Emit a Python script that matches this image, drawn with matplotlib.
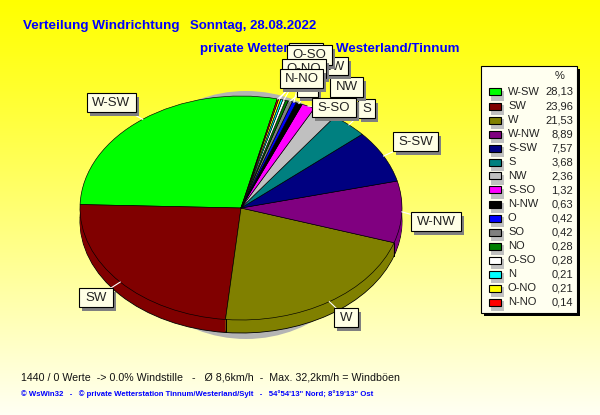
import numpy as np
import matplotlib
matplotlib.use("Agg")
import matplotlib.pyplot as plt
from matplotlib.patches import Rectangle, Ellipse

plt.rcParams['font.family'] = ['Liberation Sans', 'DejaVu Sans']

# legend / slice data (counter clockwise from the top)
names = ['W-SW', 'SW', 'W', 'W-NW', 'S-SW', 'S', 'NW', 'S-SO', 'N-NW', 'O', 'SO', 'NO', 'O-SO', 'N', 'O-NO', 'N-NO']
values = [28.13, 23.96, 21.53, 8.89, 7.57, 3.68, 2.36, 1.32, 0.63, 0.42, 0.42, 0.28, 0.28, 0.21, 0.21, 0.14]
value_labels = ['28,13', '23,96', '21,53', '8,89', '7,57', '3,68', '2,36', '1,32', '0,63', '0,42', '0,42', '0,28', '0,28', '0,21', '0,21', '0,14']
colors = ['#00ff00', '#800000', '#808000', '#800080', '#000080', '#008080', '#c0c0c0', '#ff00ff',
          '#000000', '#0000ff', '#808080', '#008000', '#ffffff', '#00ffff', '#ffff00', '#ff0000']

# layout of the label boxes in pixels, drawn in this order
label_boxes = [
    ('W-SW', 87, 93, 136, 112), ('SW', 79, 288, 113, 307), ('W', 334, 308, 358, 327),
    ('W-NW', 411, 212, 461, 231), ('S-SW', 393, 132, 438, 151), ('S', 358, 99, 375, 118),
    ('SO', 297, 78, 318, 97), ('NW', 330, 77, 363, 97), ('S-SO', 312, 98, 356, 117),
    ('N-NW', 305, 57, 348, 75), ('O', 289, 43, 323, 60), ('O-SO', 287, 45, 332, 65),
    ('O-NO', 282, 59, 326, 78), ('N-NO', 280, 69, 323, 88),
]

W, H = 600, 415
cx, cy, rx, ry, depth = 241, 208, 161, 112, 13
start = 77

fig = plt.figure(figsize=(W / 100, H / 100), dpi=100)

# background gradient
bg = fig.add_axes([0, 0, 1, 1], zorder=0)
grad = np.zeros((H, 1, 3))
grad[:, 0, 0] = 1
grad[:, 0, 1] = 1
grad[:, 0, 2] = np.linspace(0, 0.96, H) ** 1.1
bg.imshow(grad, aspect='auto', extent=(0, W, H, 0))
bg.set_xlim(0, W)
bg.set_ylim(H, 0)
bg.axis('off')

# shadow below the pie
bg.add_patch(Ellipse((246, 215), 2 * 130, 2 * 124, color='#b4b4b4', lw=0))

# pie axes, one unit = rx / ry pixels
pie_ax = fig.add_axes([0, 0, 1, 1], zorder=1)
pie_ax.patch.set_alpha(0)
for off in range(depth, 0, -1):
    edge = 'black' if off == depth else 'none'
    pie_ax.pie(values, colors=colors, startangle=start, counterclock=True,
               center=(0, -off / ry), wedgeprops=dict(edgecolor=edge, linewidth=0.6))
pie_ax.pie(values, colors=colors, startangle=start, counterclock=True,
           wedgeprops=dict(edgecolor='black', linewidth=0.45))
pie_ax.set_aspect('auto')
pie_ax.set_xlim(-cx / rx, (W - cx) / rx)
pie_ax.set_ylim((cy - H) / ry, cy / ry)

# side edges where slices meet in the front half
cum = start + np.cumsum([0] + values) * 3.6
for a in np.radians(cum[:-1]):
    if np.sin(a) < 0:
        pie_ax.plot([np.cos(a)] * 2, [np.sin(a), np.sin(a) - depth / ry], color='black', lw=0.7)

# overlay in pixel coordinates
ax = fig.add_axes([0, 0, 1, 1], zorder=2)
ax.patch.set_alpha(0)
ax.set_xlim(0, W)
ax.set_ylim(H, 0)
ax.axis('off')

# titles
ax.text(23, 25.5, 'Verteilung Windrichtung', color='#0000ff', fontsize=9.7, fontweight='bold', va='center')
ax.text(190, 25.5, 'Sonntag, 28.08.2022', color='#0000ff', fontsize=9.5, fontweight='bold', va='center')
ax.text(200, 49, 'private Wetterstation Westerland/Tinnum', color='#0000ff', fontsize=9.6,
        fontweight='bold', va='center')

# leader lines
mid = dict(zip(names, np.radians((cum[:-1] + cum[1:]) / 2)))
for name, x0, y0, x1, y1 in label_boxes:
    a = mid[name]
    ax.plot([cx + rx * np.cos(a), (x0 + x1) / 2], [cy - ry * np.sin(a), (y0 + y1) / 2], color='white', lw=0.8)

for i, (name, x0, y0, x1, y1) in enumerate(label_boxes):
    ax.add_patch(Rectangle((x0 + 3, y0 + 4), x1 - x0, y1 - y0, color='#808080', lw=0, zorder=5 + i))
    ax.add_patch(Rectangle((x0, y0), x1 - x0, y1 - y0, fc='#ffffe6', ec='black', lw=0.8, zorder=5 + i))
    ax.text((x0 + x1) / 2, (y0 + y1) / 2 + 0.5, name, ha='center', va='center', fontsize=9.5,
            color='#222222', zorder=5 + i)

# legend
ax.add_patch(Rectangle((484, 69), 96, 247, color='black', lw=0))
ax.add_patch(Rectangle((481, 66), 96, 247, fc='#fffff0', ec='black', lw=0.8))
ax.text(560, 76, '%', fontsize=8, ha='center', va='center', color='#222222')
for i, (name, lab, col) in enumerate(zip(names, value_labels, colors)):
    y = 92 + i * 14
    ax.add_patch(Rectangle((491, y - 1), 13, 10, color='#c0c0c0', lw=0))
    ax.add_patch(Rectangle((488.5, y - 3.5), 12, 7, fc=col, ec='black', lw=0.8))
    ax.text(508, y, name, fontsize=8, va='center', color='#222222')
    ax.text(573, y, lab, fontsize=8, va='center', ha='right', color='#222222')

# footer
ax.text(21, 377, '1440 / 0 Werte  -> 0.0% Windstille   -   Ø 8,6km/h  -  Max. 32,2km/h = Windböen',
        fontsize=7.7, va='center', color='#111111')
ax.text(21, 394, '© WsWin32   -   © private Wetterstation Tinnum/Westerland/Sylt   -   54°54\'13" Nord; 8°19\'13" Ost',
        fontsize=5.55, fontweight='bold', va='center', color='#0000ff')

fig.savefig('out.png', dpi=100)
